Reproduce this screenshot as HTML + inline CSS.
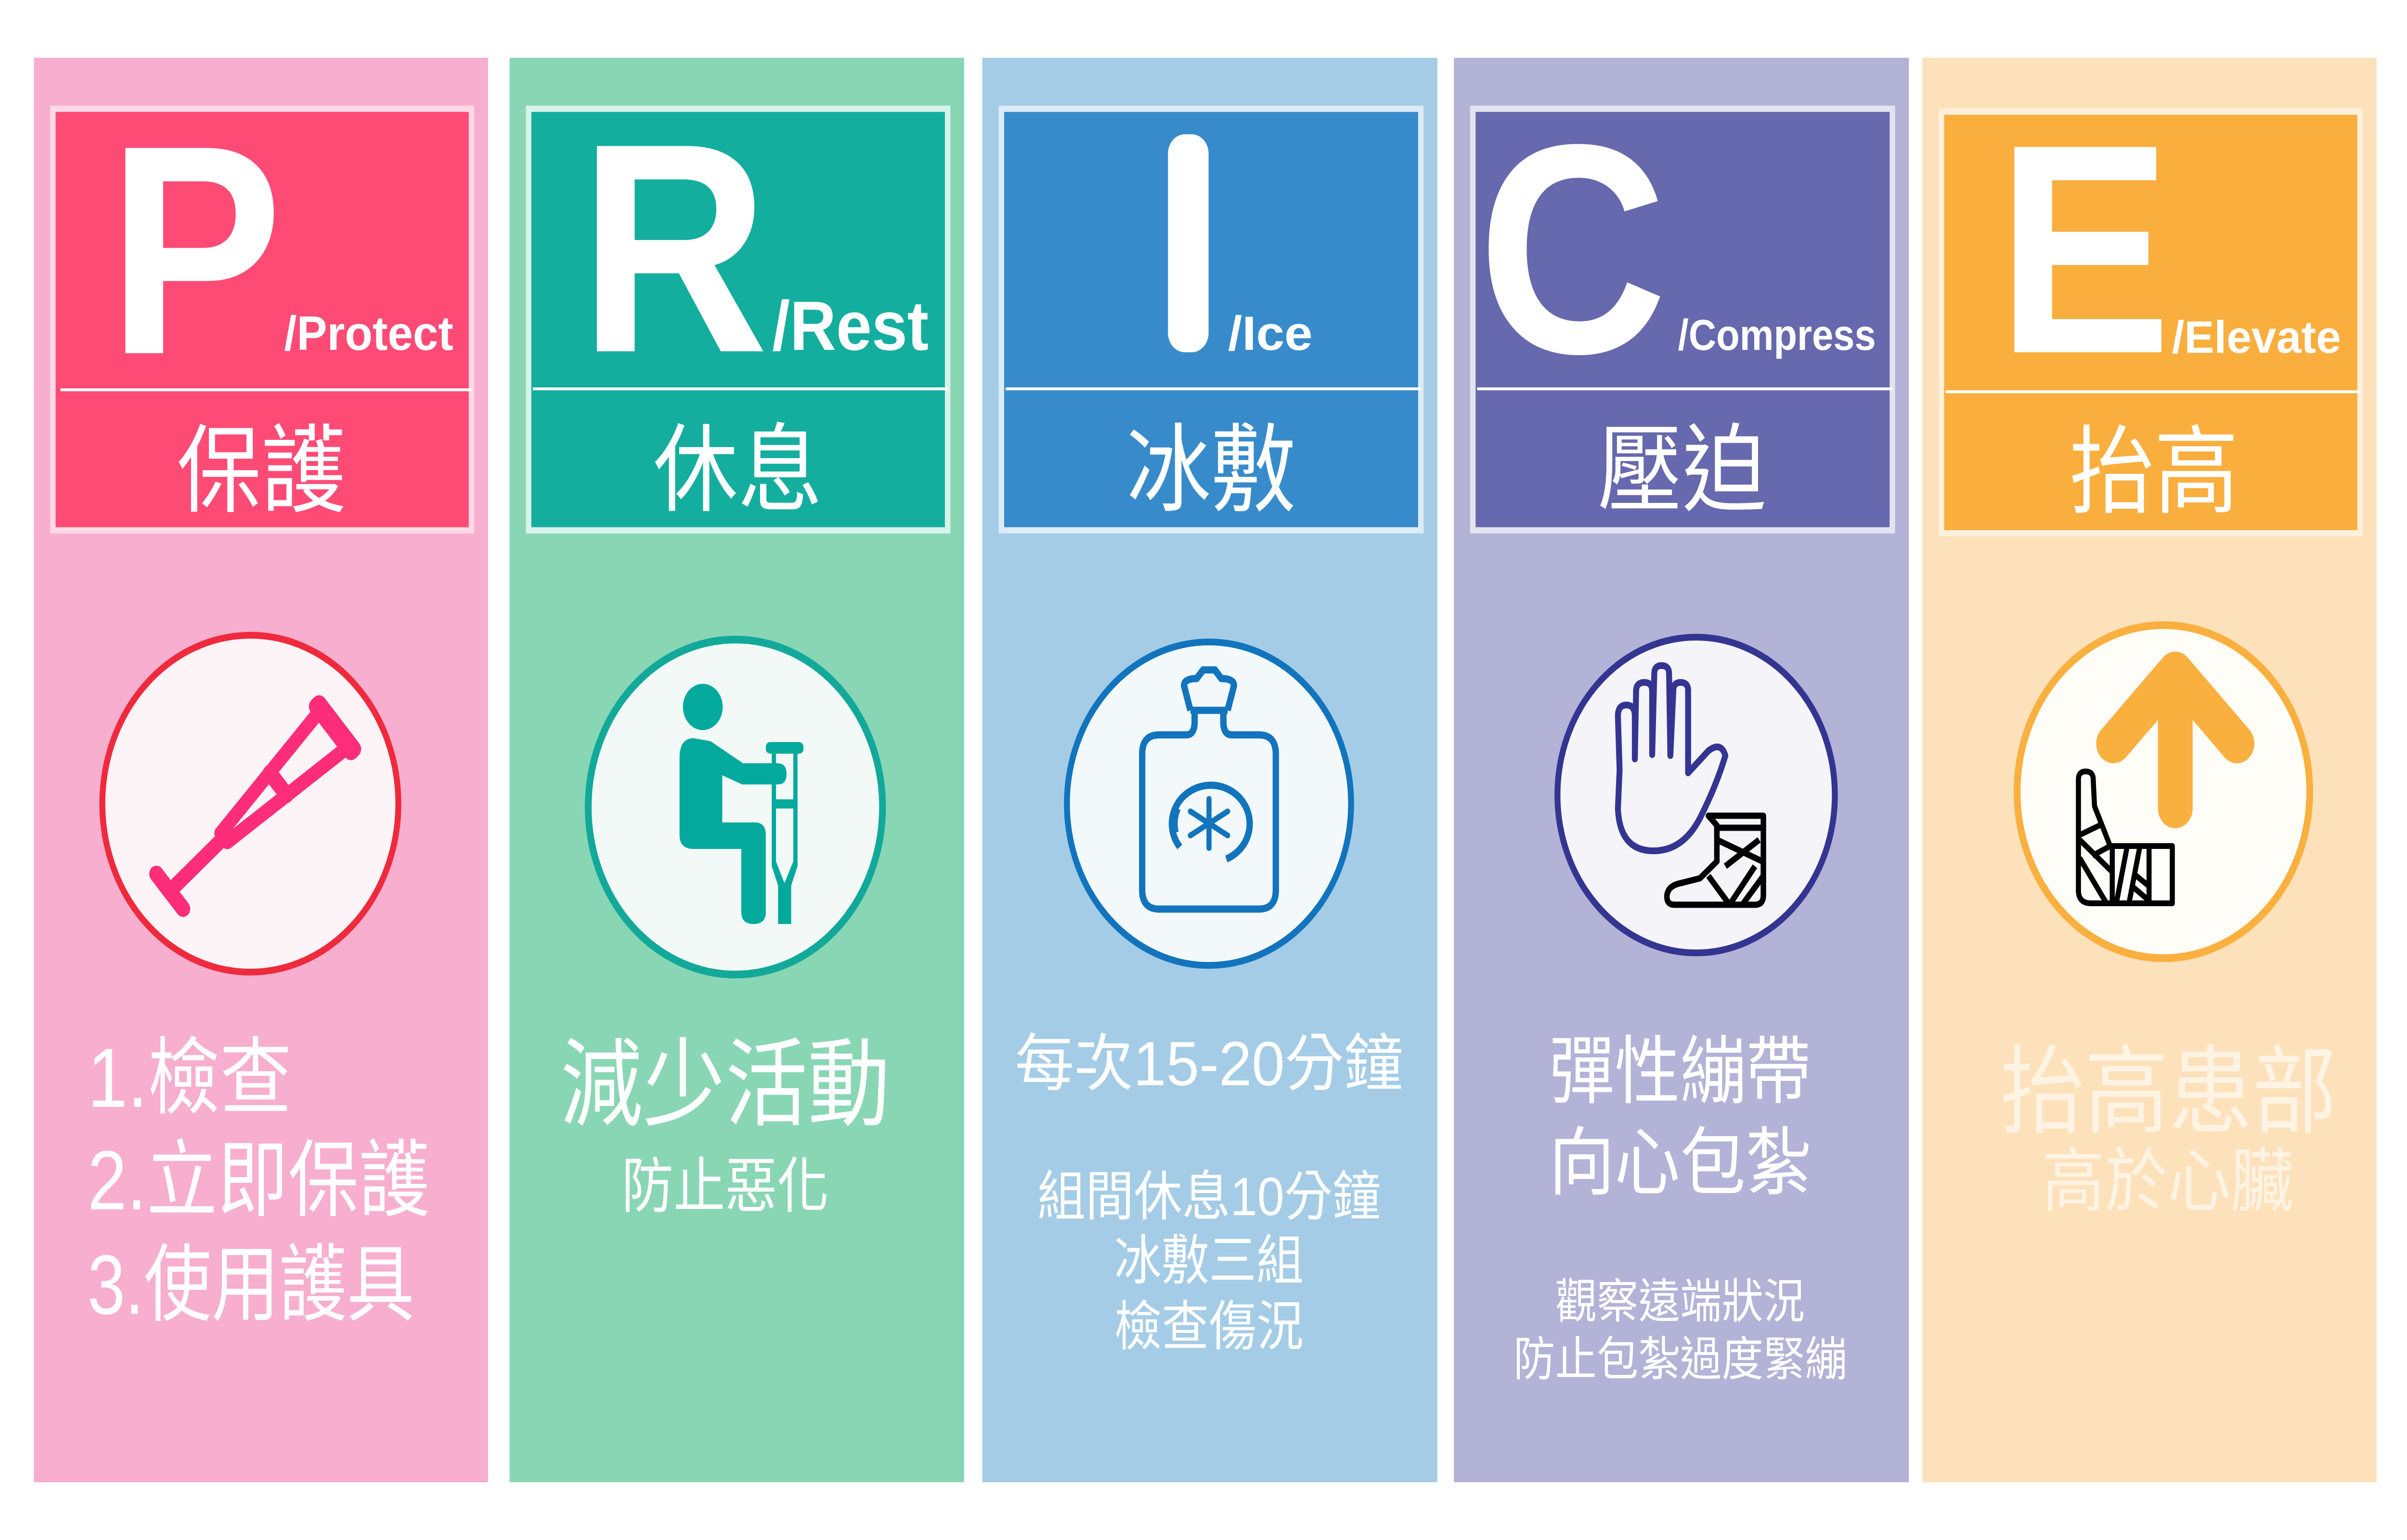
<!DOCTYPE html>
<html><head><meta charset="utf-8"><style>
html,body{margin:0;padding:0;background:#fff;overflow:hidden;width:100vw;height:100vh}
svg{display:block;width:100vw;height:100vh}
text{font-family:"Liberation Sans","Noto Sans CJK TC",sans-serif;fill:#fff}
.big{font-weight:bold;font-size:620px}
.sub{font-weight:bold;font-size:100px}
.zh{font-size:200px;text-anchor:middle}
</style></head><body>
<svg viewBox="0 0 5692 3200" preserveAspectRatio="none" xmlns="http://www.w3.org/2000/svg">
<rect width="5692" height="3200" fill="#fff"/>
<rect x="80" y="120" width="1074" height="2960" fill="#f7aecf"/>
<rect x="1205" y="120" width="1075" height="2960" fill="#89d6b5"/>
<rect x="2323" y="120" width="1076" height="2960" fill="#a4cce6"/>
<rect x="3438" y="120" width="1076" height="2960" fill="#b3b2d7"/>
<rect x="4546" y="120" width="1074" height="2960" fill="#fde1ba"/>

<g stroke-width="13">
<rect x="125" y="226" width="990" height="876" fill="#fd4b75" stroke="#fbd9e6"/>
<rect x="1250" y="226" width="991" height="876" fill="#14ae9f" stroke="#d8f3ea"/>
<rect x="2368" y="226" width="992" height="876" fill="#378bcb" stroke="#dcebf6"/>
<rect x="3483" y="226" width="992" height="876" fill="#6769ae" stroke="#e3e3f2"/>
<rect x="4591" y="232" width="990" height="876" fill="#f9ae3d" stroke="#fdf0dc"/>
</g>
<g fill="#fff">
<rect x="143" y="807" width="972" height="6"/>
<rect x="1260" y="805" width="981" height="6"/>
<rect x="2378" y="805" width="982" height="6"/>
<rect x="3493" y="805" width="982" height="6"/>
<rect x="4601" y="811" width="980" height="6"/>
</g>

<text class="big" x="255" y="734">P</text>
<text class="sub" x="672" y="727" textLength="400" lengthAdjust="spacingAndGlyphs">/Protect</text>
<text class="big" x="1370" y="730">R</text>
<text class="sub" x="1826" y="727" style="font-size:145px" textLength="370" lengthAdjust="spacingAndGlyphs">/Rest</text>
<rect x="2762" y="279" width="96" height="453" rx="40" fill="#fff"/>
<text class="sub" x="2904" y="727" textLength="200" lengthAdjust="spacingAndGlyphs">/Ice</text>
<text class="big" x="3495" y="732">C</text>
<text class="sub" x="3968" y="727" style="font-size:90px" textLength="468" lengthAdjust="spacingAndGlyphs">/Compress</text>
<text class="big" x="4722" y="732">E</text>
<text class="sub" x="5136" y="733" style="font-size:95px" textLength="400" lengthAdjust="spacingAndGlyphs">/Elevate</text>

<text class="zh" x="618" y="1048">保護</text>
<text class="zh" x="1745" y="1046">休息</text>
<text class="zh" x="2864" y="1046">冰敷</text>
<text class="zh" x="3978" y="1046">壓迫</text>
<text class="zh" x="5094" y="1050">抬高</text>

<circle cx="592" cy="1670" r="350" fill="#fcf4f7" stroke="#ef2a3c" stroke-width="14"/>
<circle cx="1739" cy="1677" r="348" fill="#f2f9f6" stroke="#12a99a" stroke-width="16"/>
<circle cx="2859" cy="1670" r="336" fill="#f3f8fb" stroke="#1174bd" stroke-width="14"/>
<circle cx="4011" cy="1652" r="328" fill="#f4f4f9" stroke="#333591" stroke-width="14"/>
<circle cx="5116" cy="1645" r="346" fill="#fffdf8" stroke="#f9b03f" stroke-width="16"/>

<g transform="translate(590,1688) rotate(49)" stroke="#fd2d79" fill="none" stroke-linecap="round" stroke-linejoin="round">
<rect x="-80" y="-290" width="160" height="44" rx="18" fill="#fd2d79" stroke="none"/>
<path d="M-48,-245 L-12,80 L12,80 L48,-245" stroke-width="30"/>
<line x1="-30" y1="-90" x2="30" y2="-90" stroke-width="34"/>
<line x1="0" y1="80" x2="0" y2="230" stroke-width="32"/>
<line x1="-48" y1="250" x2="48" y2="250" stroke-width="34"/>
</g>

<g fill="#03a99d">
<ellipse cx="1662" cy="1469" rx="47" ry="48"/>
<path d="M1640,1534 Q1607,1534 1607,1575 L1607,1735 Q1607,1764 1640,1764 L1753,1764 L1753,1895 Q1753,1920 1782,1920 Q1811,1920 1811,1895 L1811,1735 Q1811,1709 1785,1709 L1708,1709 L1708,1611 L1755,1630 L1840,1630 Q1860,1630 1860,1608 Q1860,1586 1838,1586 L1757,1586 L1680,1540 Z"/>
<rect x="1811" y="1542" width="89" height="24" rx="10"/>
<path d="M1825,1566 L1835,1566 L1835,1661 L1876,1661 L1876,1566 L1886,1566 L1886,1800 L1871,1840 L1871,1920 L1840,1920 L1840,1840 L1825,1800 Z M1835,1680 L1835,1790 L1855,1835 L1876,1790 L1876,1680 Z" fill-rule="evenodd"/>
</g>

<g fill="none" stroke="#1174bd" stroke-width="15" stroke-linejoin="round">
<path d="M2741,1527 L2805,1527 Q2825,1527 2825,1500 L2825,1476 L2893,1476 L2893,1500 Q2893,1527 2913,1527 L2977,1527 Q3017,1527 3017,1567 L3017,1849 Q3017,1889 2977,1889 L2741,1889 Q2701,1889 2701,1849 L2701,1567 Q2701,1527 2741,1527 Z"/>
<path d="M2815,1476 L2800,1425 Q2800,1410 2830,1410 L2845,1392 L2873,1392 L2888,1410 Q2918,1410 2918,1425 L2903,1476"/>
<line x1="2815" y1="1476" x2="2903" y2="1476"/>
<path d="M2790,1760 A92,80 0 1 1 2900,1785"/>
<path d="M2780,1730 A92,80 0 0 1 2785,1680"/>
<g stroke-width="12" stroke-linecap="round">
<line x1="2859" y1="1660" x2="2859" y2="1762"/>
<line x1="2815" y1="1686" x2="2903" y2="1736"/>
<line x1="2815" y1="1736" x2="2903" y2="1686"/>
</g>
</g>

<g fill="none" stroke="#333591" stroke-width="14" stroke-linejoin="round" stroke-linecap="round">
<path d="M3830,1600 L3826,1488 Q3826,1465 3846,1465 Q3866,1465 3866,1488 L3866,1577 L3869,1436 Q3869,1418 3889,1418 Q3907,1418 3907,1436 L3907,1568 L3912,1400 Q3912,1383 3929,1383 Q3947,1383 3947,1400 L3950,1570 L3957,1435 Q3957,1418 3974,1418 Q3992,1418 3992,1435 L3992,1606 L4040,1560 Q4070,1540 4080,1570 Q4060,1630 4020,1700 Q3980,1768 3910,1768 Q3830,1768 3826,1680 Z"/>
</g>
<g fill="none" stroke="#000" stroke-width="13" stroke-linejoin="round">
<path d="M4040,1695 L4170,1695 L4170,1860 Q4170,1880 4150,1880 L3960,1880 Q3940,1880 3942,1860 Q3945,1840 3975,1835 L4020,1825 L4060,1790 L4060,1715 Z"/>
<line x1="4060" y1="1720" x2="4168" y2="1720"/>
<line x1="4060" y1="1745" x2="4168" y2="1790"/>
<line x1="4080" y1="1800" x2="4160" y2="1745"/>
<line x1="4040" y1="1820" x2="4090" y2="1880"/>
<line x1="4090" y1="1880" x2="4150" y2="1800"/>
<line x1="4120" y1="1880" x2="4170" y2="1820"/>
</g>

<g fill="none" stroke="#f9b03f" stroke-width="82" stroke-linecap="round" stroke-linejoin="round">
<polyline points="4998,1545 5144,1395 5290,1545"/>
<line x1="5144" y1="1410" x2="5144" y2="1680"/>
</g>
<g fill="none" stroke="#000" stroke-width="12" stroke-linejoin="round">
<path d="M4915,1850 L4915,1620 Q4915,1603 4932,1603 Q4950,1603 4950,1620 L4953,1675 L4990,1758 L5137,1758 L5137,1877 L4945,1877 Q4915,1877 4915,1850 Z"/>
<line x1="4918" y1="1735" x2="4965" y2="1715"/>
<line x1="4918" y1="1745" x2="4995" y2="1812"/>
<line x1="4948" y1="1778" x2="4990" y2="1758"/>
<line x1="4918" y1="1783" x2="4980" y2="1875"/>
<line x1="4995" y1="1760" x2="4995" y2="1875"/>
<line x1="5030" y1="1760" x2="5005" y2="1875"/>
<line x1="5060" y1="1760" x2="5035" y2="1875"/>
<line x1="5045" y1="1815" x2="5080" y2="1840"/>
<line x1="5040" y1="1840" x2="5080" y2="1870"/>
<line x1="5082" y1="1760" x2="5082" y2="1875"/>
</g>

<g style="font-size:175px">
<text x="207" y="2300" textLength="483" lengthAdjust="spacingAndGlyphs">1.檢查</text>
<text x="207" y="2513" textLength="809" lengthAdjust="spacingAndGlyphs">2.立即保護</text>
<text x="207" y="2730" textLength="773" lengthAdjust="spacingAndGlyphs">3.使用護具</text>
</g>
<text x="1715" y="2323" text-anchor="middle" style="font-size:200px" textLength="780" lengthAdjust="spacingAndGlyphs">減少活動</text>
<text x="1715" y="2508" text-anchor="middle" style="font-size:125px" textLength="490" lengthAdjust="spacingAndGlyphs">防止惡化</text>

<text x="2859" y="2255" text-anchor="middle" style="font-size:130px" textLength="918" lengthAdjust="spacingAndGlyphs">每次15-20分鐘</text>
<text x="2859" y="2525" text-anchor="middle" style="font-size:112px" textLength="812" lengthAdjust="spacingAndGlyphs">組間休息10分鐘</text>
<text x="2859" y="2658" text-anchor="middle" style="font-size:112px">冰敷三組</text>
<text x="2859" y="2795" text-anchor="middle" style="font-size:112px">檢查傷況</text>

<text x="3973" y="2280" text-anchor="middle" style="font-size:155px" textLength="620" lengthAdjust="spacingAndGlyphs">彈性繃帶</text>
<text x="3973" y="2470" text-anchor="middle" style="font-size:155px" textLength="620" lengthAdjust="spacingAndGlyphs">向心包紮</text>
<text x="3973" y="2738" text-anchor="middle" style="font-size:98px" textLength="590" lengthAdjust="spacingAndGlyphs">觀察遠端狀況</text>
<text x="3973" y="2858" text-anchor="middle" style="font-size:98px" textLength="788" lengthAdjust="spacingAndGlyphs">防止包紮過度緊繃</text>

<text x="5128" y="2338" text-anchor="middle" style="font-size:200px;fill:#fff3e4" textLength="795" lengthAdjust="spacingAndGlyphs">抬高患部</text>
<text x="5126" y="2505" text-anchor="middle" style="font-size:145px;fill:#fff3e4" textLength="595" lengthAdjust="spacingAndGlyphs">高於心臟</text>
</svg>
</body></html>
